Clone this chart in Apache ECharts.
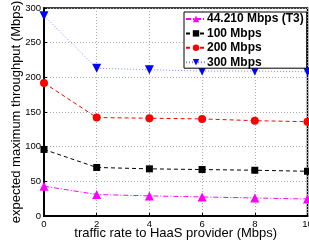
<!DOCTYPE html>
<html>
<head>
<meta charset="utf-8">
<script src="https://cdn.jsdelivr.net/npm/echarts@6/dist/echarts.min.js"></script>
<style>
html,body{margin:0;padding:0;background:#fff;}
#chart{width:309px;height:248px;}
</style>
</head>
<body>
<div id="chart"></div>
<script>
// traffic rate to HaaS provider (Mbps)
const rates = [0, 2, 4, 6, 8, 10];
const t3 = [43, 31, 29, 27.5, 26, 24.5];
const m100 = [96, 70, 68, 67, 66, 64.5];
const m200 = [192, 142, 141, 140, 137.5, 136];
const m300 = [289, 213, 211, 209, 209, 208];
const seriesNames = ['44.210 Mbps (T3)', '100 Mbps', '200 Mbps', '300 Mbps'];

const font = 'Liberation Sans, Arial, sans-serif';
const chart = echarts.init(document.getElementById('chart'));

function pairs(vals){
    return rates.map((r, i) => [r, vals[i]]);
}

function mkSeries(name, vals, color, symbol, size, lineType){
    return {
        name: name,
        type: 'line',
        data: pairs(vals),
        symbol: symbol,
        symbolSize: size,
        showSymbol: true,
        itemStyle: {color: color},
        lineStyle: {color: color, width: 1, type: lineType},
        emphasis: {disabled: true},
        animation: false
    };
}

const option = {
    animation: false,
    grid: {left: 44, right: 1.5, top: 8, bottom: 32, outerBoundsMode: 'none', containLabel: false,
        show: true, borderColor: '#000', borderWidth: 1.5, backgroundColor: 'transparent'},
    legend: {
        data: seriesNames,
        orient: 'vertical',
        right: 2.3,
        top: 12,
        itemWidth: 20,
        itemHeight: 8,
        itemGap: 2.4,
        padding: [1, 3, 0, 1],
        backgroundColor: '#fff',
        borderColor: '#000',
        borderWidth: 1,
        textStyle: {fontFamily: font, fontSize: 12, lineHeight: 12, fontWeight: 'bold', color: '#000', padding: [0, 0, 0, -4]}
    },
    xAxis: {
        type: 'value',
        min: 0, max: 10, interval: 2,
        name: 'traffic rate to HaaS provider (Mbps)',
        nameLocation: 'middle',
        nameGap: 11,
        nameMoveOverlap: false,
        nameTextStyle: {fontFamily: font, fontSize: 13, color: '#000'},
        axisLine: {lineStyle: {color: '#000', width: 2}},
        axisTick: {inside: true, length: 3, lineStyle: {color: '#000'}},
        axisLabel: {fontFamily: font, fontSize: 9.5, color: '#000', margin: 3},
        splitLine: {show: true, lineStyle: {color: '#aaa', type: [1, 2], width: 1}}
    },
    yAxis: {
        type: 'value',
        min: 0, max: 300, interval: 50,
        name: 'expected maximum throughput (Mbps)',
        nameLocation: 'middle',
        nameGap: 21,
        nameMoveOverlap: false,
        nameTextStyle: {fontFamily: font, fontSize: 13, color: '#000'},
        axisLine: {show: true, lineStyle: {color: '#000', width: 2}},
        axisTick: {show: true, inside: true, length: 3, lineStyle: {color: '#000'}},
        axisLabel: {fontFamily: font, fontSize: 9.5, color: '#000', margin: 3},
        splitLine: {show: true, lineStyle: {color: '#aaa', type: [1, 2], width: 1}}
    },
    series: [
        mkSeries(seriesNames[0], t3, '#ff00ff', 'triangle', 9, [5, 2, 1, 2]),
        mkSeries(seriesNames[1], m100, '#000000', 'rect', 7, [4, 3]),
        mkSeries(seriesNames[2], m200, '#ff0000', 'circle', 8, [4, 3]),
        Object.assign(mkSeries(seriesNames[3], m300, '#0000ff', 'triangle', 9, [1, 2]), {
            symbolRotate: 180,
            lineStyle: {color: '#8080ff', width: 1, type: [1, 2]}
        })
    ]
};
chart.setOption(option);
</script>
</body>
</html>
